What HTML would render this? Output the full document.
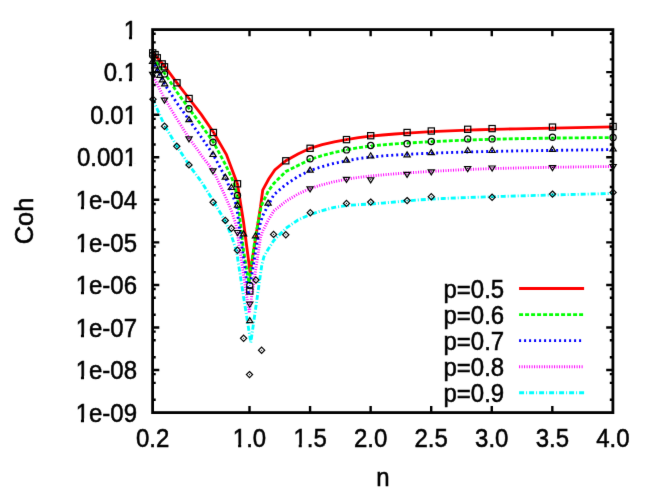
<!DOCTYPE html>
<html><head><meta charset="utf-8"><title>Coh vs n</title>
<style>
html,body{margin:0;padding:0;background:#fff;}
body{width:654px;height:491px;overflow:hidden;}
svg{display:block;}
text{font-family:"Liberation Sans",sans-serif;font-size:24px;fill:#000;stroke:#000;stroke-width:0.5px;}
</style></head><body>
<svg width="654" height="491" viewBox="0 0 654 491">
<defs><filter id="soft" x="0" y="0" width="100%" height="100%" color-interpolation-filters="sRGB"><feConvolveMatrix order="3" kernelMatrix="0.0052 0.0619 0.0052 0.0619 0.7314 0.0619 0.0052 0.0619 0.0052" edgeMode="duplicate" preserveAlpha="true"/></filter></defs>
<g filter="url(#soft)">
<rect width="654" height="491" fill="#fff"/>
<polyline points="152.6,52.3 164.8,66.5 176.9,82.8 189,98.5 201.2,114.4 213.3,132 226.4,154.5 237.5,184.2 243.6,222.5 250.2,273 260.5,207 262.7,190.2 268.7,179 274.8,170 285.9,160.7 297.96,154 310.07,148.3 322.18,144.71 334.3,141.89 346.41,139.6 358.52,137.68 370.64,136.2 382.75,135.04 394.86,134.02 406.98,133.13 419.09,132.36 431.2,131.7 443.32,131.12 455.43,130.61 467.54,130.16 479.66,129.75 491.77,129.4 503.88,129.09 515.99,128.82 528.11,128.58 540.22,128.34 552.33,128.1 564.45,127.85 576.56,127.61 588.67,127.37 600.79,127.13 612.9,126.9" fill="none" stroke="#ff0000" stroke-width="2.85" stroke-linejoin="miter" stroke-miterlimit="10"/>
<polyline points="152.6,57 164.8,73.5 176.9,92 189,108.5 201.2,125 213.3,142 225.4,164.5 231.5,177.5 234,183 237.5,198 243.6,251 248.9,283 254.9,240 261.2,206 268.4,190.8 273.8,183.5 285.9,171.5 297.96,165.5 310.07,159.5 322.18,155.59 334.3,152.47 346.41,149.9 358.52,147.67 370.64,146 382.75,144.84 394.86,143.87 406.98,143.05 419.09,142.34 431.2,141.7 443.32,141.11 455.43,140.57 467.54,140.08 479.66,139.66 491.77,139.3 503.88,138.99 515.99,138.71 528.11,138.47 540.22,138.26 552.33,138.1 564.45,137.96 576.56,137.84 588.67,137.73 600.79,137.65 612.9,137.6" fill="none" stroke="#00ff00" stroke-width="2.85" stroke-linejoin="miter" stroke-miterlimit="10" stroke-dasharray="4 2"/>
<polyline points="152.6,60 164.8,84.5 176.9,103 189,119.8 201.2,137 213.3,154.7 225.4,177.3 231.5,192.5 236.5,205.5 243.6,259 248.5,295 260,224.5 262.5,216 273.8,194.8 285.9,184.5 297.96,176.5 310.07,170.5 322.18,166.54 334.3,163.38 346.41,160.8 358.52,158.6 370.64,157 382.75,155.94 394.86,155.06 406.98,154.33 419.09,153.72 431.2,153.2 443.32,152.74 455.43,152.34 467.54,151.98 479.66,151.67 491.77,151.4 503.88,151.16 515.99,150.95 528.11,150.76 540.22,150.58 552.33,150.4 564.45,150.23 576.56,150.06 588.67,149.9 600.79,149.74 612.9,149.6" fill="none" stroke="#0000ff" stroke-width="2.85" stroke-linejoin="miter" stroke-miterlimit="10" stroke-dasharray="2 3"/>
<polyline points="152.6,75 164.8,99 176.9,119 189,138 201.2,155 213.3,171 225.4,196.5 231.5,211 236,224.5 243.6,275 249.2,313 260.6,237 262.5,231.5 268,220.5 273.8,211 285.9,201.3 297.96,194 310.07,188.6 322.18,184.78 334.3,181.64 346.41,179.2 358.52,177.39 370.64,176 382.75,174.86 394.86,173.84 406.98,172.94 419.09,172.13 431.2,171.4 443.32,170.72 455.43,170.08 467.54,169.51 479.66,169.01 491.77,168.6 503.88,168.27 515.99,167.98 528.11,167.73 540.22,167.51 552.33,167.3 564.45,167.11 576.56,166.93 588.67,166.77 600.79,166.62 612.9,166.5" fill="none" stroke="#ff00ff" stroke-width="2.85" stroke-linejoin="miter" stroke-miterlimit="10" stroke-dasharray="1 1.5"/>
<polyline points="152.6,99 164.8,126 176.9,146 189,165 201.2,181.5 213.3,201 225.4,221.5 231.5,236 236.5,251 243.6,297 250.8,342.5 261.8,265 264,256.5 268,249.5 273.8,240.5 285.9,228.3 297.96,220 310.07,214.5 322.18,210.61 334.3,207.44 346.41,205.5 358.52,204.67 370.64,204 382.75,203.06 394.86,201.98 406.98,200.89 419.09,199.89 431.2,199.1 443.32,198.5 455.43,197.98 467.54,197.52 479.66,197.1 491.77,196.7 503.88,196.32 515.99,195.97 528.11,195.64 540.22,195.32 552.33,195 564.45,194.68 576.56,194.38 588.67,194.08 600.79,193.78 612.9,193.5" fill="none" stroke="#00ffff" stroke-width="2.85" stroke-linejoin="miter" stroke-miterlimit="10" stroke-dasharray="5 2 1 2"/>
<path d="M519.1 288.5 H584.1" fill="none" stroke="#ff0000" stroke-width="2.85"/>
<g style="mix-blend-mode:multiply"><text transform="translate(504.2 297.7) scale(1 1.08)" text-anchor="end">p=0.5</text></g>
<path d="M519.1 314.6 H584.1" fill="none" stroke="#00ff00" stroke-width="2.85" stroke-dasharray="4 2"/>
<g style="mix-blend-mode:multiply"><text transform="translate(504.2 323.8) scale(1 1.08)" text-anchor="end">p=0.6</text></g>
<path d="M519.1 340.6 H584.1" fill="none" stroke="#0000ff" stroke-width="2.85" stroke-dasharray="2 3"/>
<g style="mix-blend-mode:multiply"><text transform="translate(504.2 349.8) scale(1 1.08)" text-anchor="end">p=0.7</text></g>
<path d="M519.1 366.7 H584.1" fill="none" stroke="#ff00ff" stroke-width="2.85" stroke-dasharray="1 1.5"/>
<g style="mix-blend-mode:multiply"><text transform="translate(504.2 375.9) scale(1 1.08)" text-anchor="end">p=0.8</text></g>
<path d="M519.1 392.7 H584.1" fill="none" stroke="#00ffff" stroke-width="2.85" stroke-dasharray="5 2 1 2"/>
<g style="mix-blend-mode:multiply"><text transform="translate(504.2 401.9) scale(1 1.08)" text-anchor="end">p=0.9</text></g>
<g stroke="#000" stroke-width="1.2" fill="none">
<rect x="149.6" y="49.8" width="6.2" height="6.2"/><rect x="152" y="51.5" width="6.2" height="6.2"/><rect x="154.2" y="54.7" width="6.2" height="6.2"/><rect x="159.1" y="60.8" width="6.2" height="6.2"/><rect x="161.4" y="63.7" width="6.2" height="6.2"/><rect x="173.9" y="79.7" width="6.2" height="6.2"/><rect x="186" y="95.4" width="6.2" height="6.2"/><rect x="210.3" y="129.4" width="6.2" height="6.2"/><rect x="234.4" y="180.7" width="6.2" height="6.2"/><rect x="246.7" y="287.9" width="6.2" height="6.2"/><rect x="282.7" y="157.7" width="6.2" height="6.2"/><rect x="307" y="145.2" width="6.2" height="6.2"/><rect x="343.4" y="136.5" width="6.2" height="6.2"/><rect x="367.6" y="132.6" width="6.2" height="6.2"/><rect x="404" y="129.4" width="6.2" height="6.2"/><rect x="428.2" y="127.9" width="6.2" height="6.2"/><rect x="464.6" y="126.2" width="6.2" height="6.2"/><rect x="489" y="125.5" width="6.2" height="6.2"/><rect x="549.4" y="124" width="6.2" height="6.2"/><rect x="610" y="123.4" width="6.2" height="6.2"/>
<circle cx="152.6" cy="55.3" r="3.1"/><circle cx="164.6" cy="73.9" r="3.1"/><circle cx="189" cy="108.8" r="3.1"/><circle cx="213" cy="142.2" r="3.1"/><circle cx="237.5" cy="195.5" r="3.1"/><circle cx="249.8" cy="285.5" r="3.1"/><circle cx="310.1" cy="158.7" r="3.1"/><circle cx="346.5" cy="149.9" r="3.1"/><circle cx="370.7" cy="145.5" r="3.1"/><circle cx="407.1" cy="143.8" r="3.1"/><circle cx="431.3" cy="141.5" r="3.1"/><circle cx="467.7" cy="138.9" r="3.1"/><circle cx="492.1" cy="138.9" r="3.1"/><circle cx="552.5" cy="137.2" r="3.1"/><circle cx="613.1" cy="137.4" r="3.1"/>
<path d="M152.6 58.28 L149.5 63.3 L155.7 63.3 Z"/><path d="M155 62.78 L151.9 67.8 L158.1 67.8 Z"/><path d="M157.4 67.48 L154.3 72.5 L160.5 72.5 Z"/><path d="M159.9 72.28 L156.8 77.3 L163 77.3 Z"/><path d="M162.3 76.88 L159.2 81.9 L165.4 81.9 Z"/><path d="M164.7 80.78 L161.6 85.8 L167.8 85.8 Z"/><path d="M189 116.58 L185.9 121.6 L192.1 121.6 Z"/><path d="M213 151.48 L209.9 156.5 L216.1 156.5 Z"/><path d="M225.3 174.08 L222.2 179.1 L228.4 179.1 Z"/><path d="M231.4 184.48 L228.3 189.5 L234.5 189.5 Z"/><path d="M237.5 202.18 L234.4 207.2 L240.6 207.2 Z"/><path d="M243.6 230.88 L240.5 235.9 L246.7 235.9 Z"/><path d="M249.8 317.58 L246.7 322.6 L252.9 322.6 Z"/><path d="M255.5 232.78 L252.4 237.8 L258.6 237.8 Z"/><path d="M268.1 200.08 L265 205.1 L271.2 205.1 Z"/><path d="M310.1 167.08 L307 172.1 L313.2 172.1 Z"/><path d="M346.5 157.08 L343.4 162.1 L349.6 162.1 Z"/><path d="M370.7 152.78 L367.6 157.8 L373.8 157.8 Z"/><path d="M407.1 151.78 L404 156.8 L410.2 156.8 Z"/><path d="M431.3 149.58 L428.2 154.6 L434.4 154.6 Z"/><path d="M467.7 147.48 L464.6 152.5 L470.8 152.5 Z"/><path d="M492.1 147.48 L489 152.5 L495.2 152.5 Z"/><path d="M552.5 146.38 L549.4 151.4 L555.6 151.4 Z"/><path d="M613.1 145.98 L610 151 L616.2 151 Z"/>
<path d="M152.7 77.32 L149.6 72.3 L155.8 72.3 Z"/><path d="M164.5 103.12 L161.4 98.1 L167.6 98.1 Z"/><path d="M189 141.82 L185.9 136.8 L192.1 136.8 Z"/><path d="M213 173.82 L209.9 168.8 L216.1 168.8 Z"/><path d="M237.5 235.52 L234.4 230.5 L240.6 230.5 Z"/><path d="M249.8 307.22 L246.7 302.2 L252.9 302.2 Z"/><path d="M310.1 191.82 L307 186.8 L313.2 186.8 Z"/><path d="M346.5 182.42 L343.4 177.4 L349.6 177.4 Z"/><path d="M370.7 182.82 L367.6 177.8 L373.8 177.8 Z"/><path d="M407.1 177.42 L404 172.4 L410.2 172.4 Z"/><path d="M431.3 174.92 L428.2 169.9 L434.4 169.9 Z"/><path d="M467.7 171.62 L464.6 166.6 L470.8 166.6 Z"/><path d="M492.1 171.02 L489 166 L495.2 166 Z"/><path d="M552.5 170.62 L549.4 165.6 L555.6 165.6 Z"/><path d="M613.1 169.52 L610 164.5 L616.2 164.5 Z"/>
<path d="M153 96.1 L156.1 99.2 L153 102.3 L149.9 99.2 Z"/><path d="M164.5 123.1 L167.6 126.2 L164.5 129.3 L161.4 126.2 Z"/><path d="M176.8 143.2 L179.9 146.3 L176.8 149.4 L173.7 146.3 Z"/><path d="M189 161.8 L192.1 164.9 L189 168 L185.9 164.9 Z"/><path d="M213.1 199.2 L216.2 202.3 L213.1 205.4 L210 202.3 Z"/><path d="M225.3 217.3 L228.4 220.4 L225.3 223.5 L222.2 220.4 Z"/><path d="M231.4 225.2 L234.5 228.3 L231.4 231.4 L228.3 228.3 Z"/><path d="M237.4 247.1 L240.5 250.2 L237.4 253.3 L234.3 250.2 Z"/><path d="M243.6 335.2 L246.7 338.3 L243.6 341.4 L240.5 338.3 Z"/><path d="M249.5 371.5 L252.6 374.6 L249.5 377.7 L246.4 374.6 Z"/><path d="M255.9 276.9 L259 280 L255.9 283.1 L252.8 280 Z"/><path d="M261.6 347.1 L264.7 350.2 L261.6 353.3 L258.5 350.2 Z"/><path d="M273.6 231.3 L276.7 234.4 L273.6 237.5 L270.5 234.4 Z"/><path d="M285.8 231.7 L288.9 234.8 L285.8 237.9 L282.7 234.8 Z"/><path d="M310.3 209.6 L313.4 212.7 L310.3 215.8 L307.2 212.7 Z"/><path d="M346.5 200.3 L349.6 203.4 L346.5 206.5 L343.4 203.4 Z"/><path d="M370.7 199 L373.8 202.1 L370.7 205.2 L367.6 202.1 Z"/><path d="M407.1 197.5 L410.2 200.6 L407.1 203.7 L404 200.6 Z"/><path d="M431.3 193.6 L434.4 196.7 L431.3 199.8 L428.2 196.7 Z"/><path d="M492.1 194.2 L495.2 197.3 L492.1 200.4 L489 197.3 Z"/><path d="M552.5 191 L555.6 194.1 L552.5 197.2 L549.4 194.1 Z"/><path d="M613.1 189.3 L616.2 192.4 L613.1 195.5 L610 192.4 Z"/>
</g>
<g fill="#000" stroke="none">
<circle cx="152.7" cy="52.9" r="0.55"/><circle cx="155.1" cy="54.6" r="0.55"/><circle cx="157.3" cy="57.8" r="0.55"/><circle cx="162.2" cy="63.9" r="0.55"/><circle cx="164.5" cy="66.8" r="0.55"/><circle cx="177" cy="82.8" r="0.55"/><circle cx="189.1" cy="98.5" r="0.55"/><circle cx="213.4" cy="132.5" r="0.55"/><circle cx="237.5" cy="183.8" r="0.55"/><circle cx="249.8" cy="291" r="0.55"/><circle cx="285.8" cy="160.8" r="0.55"/><circle cx="310.1" cy="148.3" r="0.55"/><circle cx="346.5" cy="139.6" r="0.55"/><circle cx="370.7" cy="135.7" r="0.55"/><circle cx="407.1" cy="132.5" r="0.55"/><circle cx="431.3" cy="131" r="0.55"/><circle cx="467.7" cy="129.3" r="0.55"/><circle cx="492.1" cy="128.6" r="0.55"/><circle cx="552.5" cy="127.1" r="0.55"/><circle cx="613.1" cy="126.5" r="0.55"/>
<circle cx="152.6" cy="55.3" r="0.55"/><circle cx="164.6" cy="73.9" r="0.55"/><circle cx="189" cy="108.8" r="0.55"/><circle cx="213" cy="142.2" r="0.55"/><circle cx="237.5" cy="195.5" r="0.55"/><circle cx="249.8" cy="285.5" r="0.55"/><circle cx="310.1" cy="158.7" r="0.55"/><circle cx="346.5" cy="149.9" r="0.55"/><circle cx="370.7" cy="145.5" r="0.55"/><circle cx="407.1" cy="143.8" r="0.55"/><circle cx="431.3" cy="141.5" r="0.55"/><circle cx="467.7" cy="138.9" r="0.55"/><circle cx="492.1" cy="138.9" r="0.55"/><circle cx="552.5" cy="137.2" r="0.55"/><circle cx="613.1" cy="137.4" r="0.55"/>
<circle cx="152.6" cy="61.5" r="0.55"/><circle cx="155" cy="66" r="0.55"/><circle cx="157.4" cy="70.7" r="0.55"/><circle cx="159.9" cy="75.5" r="0.55"/><circle cx="162.3" cy="80.1" r="0.55"/><circle cx="164.7" cy="84" r="0.55"/><circle cx="189" cy="119.8" r="0.55"/><circle cx="213" cy="154.7" r="0.55"/><circle cx="225.3" cy="177.3" r="0.55"/><circle cx="231.4" cy="187.7" r="0.55"/><circle cx="237.5" cy="205.4" r="0.55"/><circle cx="243.6" cy="234.1" r="0.55"/><circle cx="249.8" cy="320.8" r="0.55"/><circle cx="255.5" cy="236" r="0.55"/><circle cx="268.1" cy="203.3" r="0.55"/><circle cx="310.1" cy="170.3" r="0.55"/><circle cx="346.5" cy="160.3" r="0.55"/><circle cx="370.7" cy="156" r="0.55"/><circle cx="407.1" cy="155" r="0.55"/><circle cx="431.3" cy="152.8" r="0.55"/><circle cx="467.7" cy="150.7" r="0.55"/><circle cx="492.1" cy="150.7" r="0.55"/><circle cx="552.5" cy="149.6" r="0.55"/><circle cx="613.1" cy="149.2" r="0.55"/>
<circle cx="152.7" cy="74.1" r="0.55"/><circle cx="164.5" cy="99.9" r="0.55"/><circle cx="189" cy="138.6" r="0.55"/><circle cx="213" cy="170.6" r="0.55"/><circle cx="237.5" cy="232.3" r="0.55"/><circle cx="249.8" cy="304" r="0.55"/><circle cx="310.1" cy="188.6" r="0.55"/><circle cx="346.5" cy="179.2" r="0.55"/><circle cx="370.7" cy="179.6" r="0.55"/><circle cx="407.1" cy="174.2" r="0.55"/><circle cx="431.3" cy="171.7" r="0.55"/><circle cx="467.7" cy="168.4" r="0.55"/><circle cx="492.1" cy="167.8" r="0.55"/><circle cx="552.5" cy="167.4" r="0.55"/><circle cx="613.1" cy="166.3" r="0.55"/>
<circle cx="153" cy="99.2" r="0.55"/><circle cx="164.5" cy="126.2" r="0.55"/><circle cx="176.8" cy="146.3" r="0.55"/><circle cx="189" cy="164.9" r="0.55"/><circle cx="213.1" cy="202.3" r="0.55"/><circle cx="225.3" cy="220.4" r="0.55"/><circle cx="231.4" cy="228.3" r="0.55"/><circle cx="237.4" cy="250.2" r="0.55"/><circle cx="243.6" cy="338.3" r="0.55"/><circle cx="249.5" cy="374.6" r="0.55"/><circle cx="255.9" cy="280" r="0.55"/><circle cx="261.6" cy="350.2" r="0.55"/><circle cx="273.6" cy="234.4" r="0.55"/><circle cx="285.8" cy="234.8" r="0.55"/><circle cx="310.3" cy="212.7" r="0.55"/><circle cx="346.5" cy="203.4" r="0.55"/><circle cx="370.7" cy="202.1" r="0.55"/><circle cx="407.1" cy="200.6" r="0.55"/><circle cx="431.3" cy="196.7" r="0.55"/><circle cx="492.1" cy="197.3" r="0.55"/><circle cx="552.5" cy="194.1" r="0.55"/><circle cx="613.1" cy="192.4" r="0.55"/>
</g>
<g stroke="#000" stroke-width="2.4" fill="none" stroke-linecap="butt">
<path d="M152.6 33.72 h3.1 M612.9 33.72 h-3.1"/>
<path d="M152.6 42.41 h3.1 M612.9 42.41 h-3.1"/>
<path d="M152.6 59.35 h3.1 M612.9 59.35 h-3.1"/>
<path d="M152.6 72.16 h6.7 M612.9 72.16 h-6.7"/>
<path d="M152.6 76.28 h3.1 M612.9 76.28 h-3.1"/>
<path d="M152.6 84.97 h3.1 M612.9 84.97 h-3.1"/>
<path d="M152.6 101.9 h3.1 M612.9 101.9 h-3.1"/>
<path d="M152.6 114.71 h6.7 M612.9 114.71 h-6.7"/>
<path d="M152.6 118.83 h3.1 M612.9 118.83 h-3.1"/>
<path d="M152.6 127.52 h3.1 M612.9 127.52 h-3.1"/>
<path d="M152.6 144.46 h3.1 M612.9 144.46 h-3.1"/>
<path d="M152.6 157.27 h6.7 M612.9 157.27 h-6.7"/>
<path d="M152.6 161.39 h3.1 M612.9 161.39 h-3.1"/>
<path d="M152.6 170.08 h3.1 M612.9 170.08 h-3.1"/>
<path d="M152.6 187.01 h3.1 M612.9 187.01 h-3.1"/>
<path d="M152.6 199.82 h6.7 M612.9 199.82 h-6.7"/>
<path d="M152.6 203.95 h3.1 M612.9 203.95 h-3.1"/>
<path d="M152.6 212.63 h3.1 M612.9 212.63 h-3.1"/>
<path d="M152.6 229.57 h3.1 M612.9 229.57 h-3.1"/>
<path d="M152.6 242.38 h6.7 M612.9 242.38 h-6.7"/>
<path d="M152.6 246.5 h3.1 M612.9 246.5 h-3.1"/>
<path d="M152.6 255.19 h3.1 M612.9 255.19 h-3.1"/>
<path d="M152.6 272.12 h3.1 M612.9 272.12 h-3.1"/>
<path d="M152.6 284.93 h6.7 M612.9 284.93 h-6.7"/>
<path d="M152.6 289.06 h3.1 M612.9 289.06 h-3.1"/>
<path d="M152.6 297.74 h3.1 M612.9 297.74 h-3.1"/>
<path d="M152.6 314.68 h3.1 M612.9 314.68 h-3.1"/>
<path d="M152.6 327.49 h6.7 M612.9 327.49 h-6.7"/>
<path d="M152.6 331.61 h3.1 M612.9 331.61 h-3.1"/>
<path d="M152.6 340.3 h3.1 M612.9 340.3 h-3.1"/>
<path d="M152.6 357.23 h3.1 M612.9 357.23 h-3.1"/>
<path d="M152.6 370.04 h6.7 M612.9 370.04 h-6.7"/>
<path d="M152.6 374.17 h3.1 M612.9 374.17 h-3.1"/>
<path d="M152.6 382.85 h3.1 M612.9 382.85 h-3.1"/>
<path d="M152.6 399.79 h3.1 M612.9 399.79 h-3.1"/>
<path d="M249.51 412.6 v-6.7 M249.51 29.6 v6.7"/>
<path d="M310.07 412.6 v-6.7 M310.07 29.6 v6.7"/>
<path d="M370.64 412.6 v-6.7 M370.64 29.6 v6.7"/>
<path d="M431.2 412.6 v-6.7 M431.2 29.6 v6.7"/>
<path d="M491.77 412.6 v-6.7 M491.77 29.6 v6.7"/>
<path d="M552.33 412.6 v-6.7 M552.33 29.6 v6.7"/>
</g>
<rect x="152.6" y="29.6" width="460.3" height="383" fill="none" stroke="#000" stroke-width="2.8"/>
<g style="mix-blend-mode:multiply"><text transform="translate(137 38.8) scale(1 1.08)" text-anchor="end">1</text></g>
<g style="mix-blend-mode:multiply"><text transform="translate(137 81.36) scale(1 1.08)" text-anchor="end">0.1</text></g>
<g style="mix-blend-mode:multiply"><text transform="translate(137 123.91) scale(1 1.08)" text-anchor="end">0.01</text></g>
<g style="mix-blend-mode:multiply"><text transform="translate(137 166.47) scale(1 1.08)" text-anchor="end">0.001</text></g>
<g style="mix-blend-mode:multiply"><text transform="translate(137 209.02) scale(1 1.08)" text-anchor="end">1e-04</text></g>
<g style="mix-blend-mode:multiply"><text transform="translate(137 251.58) scale(1 1.08)" text-anchor="end">1e-05</text></g>
<g style="mix-blend-mode:multiply"><text transform="translate(137 294.13) scale(1 1.08)" text-anchor="end">1e-06</text></g>
<g style="mix-blend-mode:multiply"><text transform="translate(137 336.69) scale(1 1.08)" text-anchor="end">1e-07</text></g>
<g style="mix-blend-mode:multiply"><text transform="translate(137 379.24) scale(1 1.08)" text-anchor="end">1e-08</text></g>
<g style="mix-blend-mode:multiply"><text transform="translate(137 421.8) scale(1 1.08)" text-anchor="end">1e-09</text></g>
<g style="mix-blend-mode:multiply"><text transform="translate(152.6 446.9) scale(1 1.08)" text-anchor="middle">0.2</text></g>
<g style="mix-blend-mode:multiply"><text transform="translate(249.51 446.9) scale(1 1.08)" text-anchor="middle">1.0</text></g>
<g style="mix-blend-mode:multiply"><text transform="translate(310.07 446.9) scale(1 1.08)" text-anchor="middle">1.5</text></g>
<g style="mix-blend-mode:multiply"><text transform="translate(370.64 446.9) scale(1 1.08)" text-anchor="middle">2.0</text></g>
<g style="mix-blend-mode:multiply"><text transform="translate(431.2 446.9) scale(1 1.08)" text-anchor="middle">2.5</text></g>
<g style="mix-blend-mode:multiply"><text transform="translate(491.77 446.9) scale(1 1.08)" text-anchor="middle">3.0</text></g>
<g style="mix-blend-mode:multiply"><text transform="translate(552.33 446.9) scale(1 1.08)" text-anchor="middle">3.5</text></g>
<g style="mix-blend-mode:multiply"><text transform="translate(612.9 446.9) scale(1 1.08)" text-anchor="middle">4.0</text></g>
<g style="mix-blend-mode:multiply"><text transform="translate(383 486.2) scale(1 1.08)" text-anchor="middle">n</text></g>
<g style="mix-blend-mode:multiply"><text transform="translate(33.3 221) rotate(-90) scale(1.06 1.09)" text-anchor="middle">Coh</text></g>
<g fill="#fff" stroke="none">
<rect x="123.75" y="35.5" width="5.2" height="5.3"/><rect x="132.05" y="35.5" width="5.5" height="5.3"/>
<rect x="123.75" y="78.06" width="5.2" height="5.3"/><rect x="132.05" y="78.06" width="5.5" height="5.3"/>
<rect x="123.75" y="120.61" width="5.2" height="5.3"/><rect x="132.05" y="120.61" width="5.5" height="5.3"/>
<rect x="123.75" y="163.17" width="5.2" height="5.3"/><rect x="132.05" y="163.17" width="5.5" height="5.3"/>
<rect x="75.71" y="205.72" width="5.2" height="5.3"/><rect x="84.01" y="205.72" width="5.5" height="5.3"/>
<rect x="75.71" y="248.28" width="5.2" height="5.3"/><rect x="84.01" y="248.28" width="5.5" height="5.3"/>
<rect x="75.71" y="290.83" width="5.2" height="5.3"/><rect x="84.01" y="290.83" width="5.5" height="5.3"/>
<rect x="75.71" y="333.39" width="5.2" height="5.3"/><rect x="84.01" y="333.39" width="5.5" height="5.3"/>
<rect x="75.71" y="375.94" width="5.2" height="5.3"/><rect x="84.01" y="375.94" width="5.5" height="5.3"/>
<rect x="75.71" y="418.5" width="5.2" height="5.3"/><rect x="84.01" y="418.5" width="5.5" height="5.3"/>
<rect x="232.92" y="443.6" width="5.2" height="5.3"/><rect x="241.22" y="443.6" width="5.5" height="5.3"/>
<rect x="293.49" y="443.6" width="5.2" height="5.3"/><rect x="301.79" y="443.6" width="5.5" height="5.3"/>
</g>
</g>
</svg>
</body></html>
